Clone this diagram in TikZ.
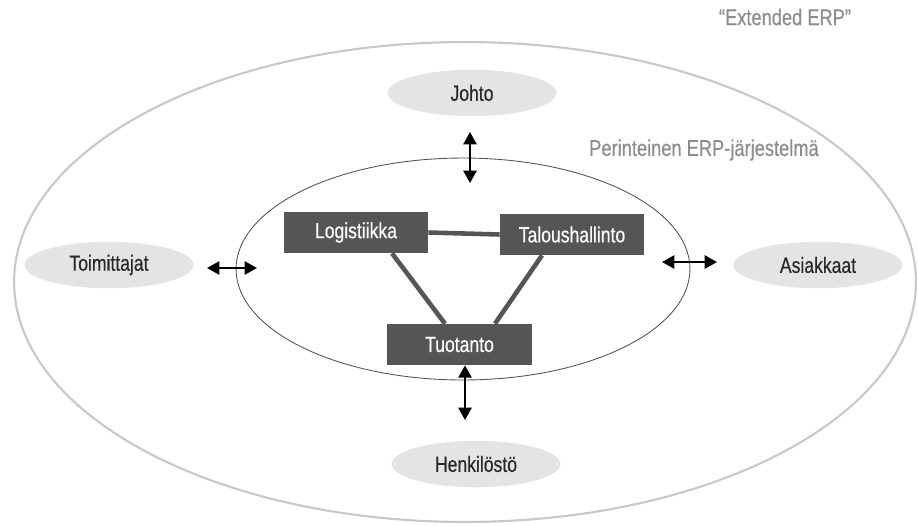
\documentclass[tikz,border=0pt]{standalone}
\usepackage{fontspec}
\setmainfont{Liberation Sans}[FakeStretch=0.8, FakeBold=0.4]
\usetikzlibrary{shapes.geometric,arrows.meta}
\definecolor{boxgray}{RGB}{85,85,85}
\definecolor{pillgray}{RGB}{228,228,228}
\definecolor{outergray}{RGB}{200,200,200}
\definecolor{labelgray}{RGB}{140,140,140}
\definecolor{textdark}{RGB}{40,40,40}
\tikzset{
  modbox/.style={draw=none, fill=boxgray, text=white, minimum width=2.88cm, minimum height=0.82cm, inner sep=0pt, font=\fontsize{12.5}{14}\selectfont},
  pill/.style={ellipse, draw=none, fill=pillgray, text=textdark, minimum width=3.38cm, minimum height=0.93cm, inner sep=0pt, font=\fontsize{12.5}{14}\selectfont},
  biarrow/.style={line width=1.1pt, black, {Triangle[length=7pt,width=7.5pt]}-{Triangle[length=7pt,width=7.5pt]}},
  link/.style={line width=2.6pt, boxgray},
  graylabel/.style={text=labelgray, inner sep=0pt, font=\fontsize{13}{15}\selectfont}
}
\begin{document}
\begin{tikzpicture}[x=0.02cm, y=-0.02cm]
\useasboundingbox (0,0) rectangle (918,525);
% outer ellipse
\draw[outergray, line width=1.2pt] (465,282) ellipse [x radius=9.02cm, y radius=4.8cm];
% inner ellipse
\draw[boxgray, line width=0.5pt] (463,269) ellipse [x radius=4.54cm, y radius=2.22cm];
% labels
\node[graylabel] (ext) at (785,17) {“Extended ERP”};
\node[graylabel] (trad) at (704,150) {Perinteinen ERP-järjestelmä};
% stakeholder pills
\node[pill] (johto) at (472,93) {Johto};
\node[pill] (toim) at (109,265) {Toimittajat};
\node[pill] (asiak) at (818,265) {Asiakkaat};
\node[pill] (henk) at (476,464) {Henkilöstö};
% modules
\node[modbox] (log) at (356,232.5) {Logistiikka};
\node[modbox] (tal) at (572,234.5) {Taloushallinto};
\node[modbox, minimum width=2.9cm] (tuo) at (459.5,344.5) {Tuotanto};
% links
\draw[link] (log.east) -- (tal.west);
\draw[link] ([xshift=0.72cm]log.south) -- ([xshift=-0.29cm]tuo.north);
\draw[link] ([xshift=-0.6cm]tal.south) -- ([xshift=0.71cm]tuo.north);
% arrows
\coordinate (ta1) at (470,132);
\coordinate (ta2) at (470,183);
\coordinate (la1) at (207,268);
\coordinate (la2) at (257,268);
\coordinate (ra1) at (662,262);
\coordinate (ra2) at (717,262);
\coordinate (ba2) at (465,420);
\draw[biarrow] (ta1) -- (ta2);
\draw[biarrow] (la1) -- (la2);
\draw[biarrow] (ra1) -- (ra2);
\draw[biarrow] ([xshift=0.11cm]tuo.south) -- (ba2);
\end{tikzpicture}
\end{document}
